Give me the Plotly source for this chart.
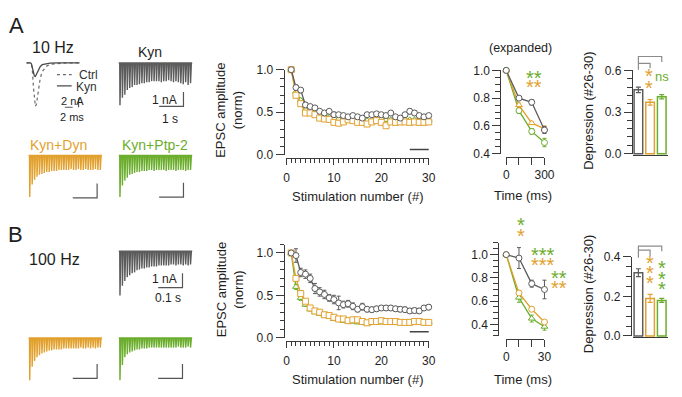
import plotly.graph_objects as go

W, H = 682, 397
FONT = "Liberation Sans, Arial, Helvetica, sans-serif"
GRAY = "#5c5c5c"
ORANGE = "#E2A12E"
GREEN = "#6BAD2C"
AXC = "#3a3a3a"
TXT = "#1e1e1e"
BRK = "#8c8c8c"

# ---------------- data ----------------
stim = list(range(1, 31))
# 10 Hz, normalised EPSC amplitudes
kyn10 = [1.00, 0.79, 0.76, 0.585, 0.566, 0.55, 0.51, 0.49, 0.51, 0.47, 0.47, 0.46, 0.445, 0.46, 0.445,
         0.43, 0.47, 0.47, 0.48, 0.47, 0.46, 0.49, 0.445, 0.43, 0.47, 0.51, 0.49, 0.46, 0.445, 0.46]
kyn10_err = [0, 0.03, 0.03, 0.03, 0.02, 0.02, 0.02, 0.02, 0.02, 0.03, 0.02, 0.02, 0.02, 0.02, 0.02,
             0.02, 0.02, 0.02, 0.02, 0.02, 0.02, 0.02, 0.02, 0.02, 0.02, 0.03, 0.03, 0.02, 0.02, 0.02]
dyn10 = [1.00, 0.70, 0.60, 0.49, 0.49, 0.47, 0.43, 0.42, 0.415, 0.38, 0.37, 0.385, 0.41, 0.40, 0.38,
         0.38, 0.36, 0.385, 0.40, 0.38, 0.34, 0.385, 0.38, 0.385, 0.385, 0.38, 0.385, 0.38, 0.38, 0.385]
dyn10_err = [0, 0.02, 0.02, 0.02, 0.02, 0.015, 0.015, 0.015, 0.015, 0.015, 0.015, 0.015, 0.015, 0.015, 0.015,
             0.015, 0.015, 0.015, 0.015, 0.015, 0.015, 0.015, 0.015, 0.015, 0.015, 0.015, 0.015, 0.015, 0.015, 0.015]
ptp10 = [1.00, 0.74, 0.64, 0.53, 0.53, 0.51, 0.47, 0.45, 0.44, 0.43, 0.42, 0.42, 0.43, 0.42, 0.41,
         0.41, 0.40, 0.41, 0.41, 0.42, 0.41, 0.41, 0.40, 0.41, 0.42, 0.41, 0.41, 0.42, 0.41, 0.41]
ptp10_err = [0, 0.02, 0.02, 0.02, 0.02, 0.015, 0.015, 0.015, 0.015, 0.015, 0.015, 0.015, 0.015, 0.015, 0.015,
             0.015, 0.015, 0.015, 0.015, 0.015, 0.015, 0.015, 0.015, 0.015, 0.015, 0.015, 0.015, 0.015, 0.015, 0.015]
# 100 Hz
kyn100 = [1.00, 0.97, 0.77, 0.75, 0.70, 0.58, 0.54, 0.51, 0.47, 0.45, 0.41, 0.39, 0.40, 0.37, 0.335,
          0.365, 0.335, 0.33, 0.34, 0.35, 0.35, 0.35, 0.34, 0.335, 0.33, 0.315, 0.32, 0.315, 0.35, 0.36]
kyn100_err = [0, 0.08, 0.05, 0.05, 0.05, 0.06, 0.05, 0.05, 0.04, 0.05, 0.08, 0.04, 0.04, 0.04, 0.03,
              0.04, 0.03, 0.03, 0.03, 0.03, 0.03, 0.03, 0.03, 0.03, 0.03, 0.03, 0.03, 0.03, 0.03, 0.03]
dyn100 = [1.00, 0.70, 0.52, 0.43, 0.35, 0.315, 0.30, 0.27, 0.26, 0.24, 0.22, 0.22, 0.20, 0.21, 0.21,
          0.19, 0.175, 0.19, 0.19, 0.20, 0.19, 0.19, 0.19, 0.18, 0.18, 0.18, 0.19, 0.19, 0.18, 0.18]
dyn100_err = [0, 0.03, 0.03, 0.02, 0.02, 0.02, 0.015, 0.015, 0.015, 0.015, 0.015, 0.015, 0.015, 0.015, 0.015,
              0.015, 0.015, 0.015, 0.015, 0.015, 0.015, 0.015, 0.015, 0.015, 0.015, 0.015, 0.015, 0.015, 0.015, 0.015]
ptp100 = [1.00, 0.60, 0.47, 0.39, 0.335, 0.30, 0.28, 0.26, 0.25, 0.22, 0.21, 0.20, 0.19, 0.19, 0.18,
          0.175, 0.165, 0.18, 0.18, 0.18, 0.18, 0.18, 0.175, 0.18, 0.18, 0.175, 0.18, 0.18, 0.175, 0.18]
ptp100_err = [0, 0.03, 0.03, 0.02, 0.02, 0.015, 0.015, 0.015, 0.015, 0.015, 0.015, 0.015, 0.015, 0.015, 0.015,
              0.015, 0.015, 0.015, 0.015, 0.015, 0.015, 0.015, 0.015, 0.015, 0.015, 0.015, 0.015, 0.015, 0.015, 0.015]
avg_window = [26, 30]
avg_window_y = [0.06, 0.07]

# expanded (first four responses)
tA = [0, 100, 200, 300]
expA_kyn = [1.0, 0.80, 0.77, 0.57]; expA_kyn_err = [0, 0.012, 0.02, 0.025]
expA_dyn = [1.0, 0.75, 0.62, 0.58]; expA_dyn_err = [0, 0.015, 0.01, 0.02]
expA_ptp = [1.0, 0.71, 0.56, 0.48]; expA_ptp_err = [0, 0.02, 0.02, 0.03]
tB = [0, 10, 20, 30]
expB_kyn = [1.0, 0.97, 0.75, 0.70]; expB_kyn_err = [0, 0.09, 0.03, 0.08]
expB_dyn = [1.0, 0.67, 0.53, 0.42]; expB_dyn_err = [0, 0.02, 0.015, 0.015]
expB_ptp = [1.0, 0.63, 0.45, 0.38]; expB_ptp_err = [0, 0.04, 0.03, 0.03]

# depression (#26-30)
bar_cats = [0, 1, 2]
depA = [0.46, 0.37, 0.41]; depA_err = [0.02, 0.02, 0.015]
depB = [0.32, 0.19, 0.18]; depB_err = [0.02, 0.02, 0.01]
bracketA = {"outer": [0.604, 0.70, 0.70, 0.66], "inner": [0.651, 0.651, 0.616]}
bracketB = {"outer": [0.395, 0.454, 0.454, 0.429], "inner": [0.434, 0.434, 0.405]}

# example current traces: peak amplitudes (nA) of 30 EPSCs
trainA_kyn = [2.93, 2.40, 2.20, 1.87, 1.73, 1.67, 1.53, 1.53, 1.47, 1.40, 1.40, 1.33, 1.33, 1.27, 1.27,
              1.27, 1.27, 1.33, 1.27, 1.27, 1.20, 1.27, 1.33, 1.27, 1.33, 1.40, 1.47, 1.33, 1.53, 1.40]
trainA_dyn = [2.87, 2.00, 1.67, 1.47, 1.33, 1.27, 1.20, 1.13, 1.13, 1.07, 1.07, 1.07, 1.00, 1.00, 1.00,
              1.00, 1.00, 0.93, 1.00, 1.00, 0.93, 1.00, 1.00, 0.93, 1.00, 1.00, 1.00, 0.93, 1.00, 1.00]
trainA_ptp = [2.87, 2.07, 1.73, 1.53, 1.33, 1.27, 1.20, 1.13, 1.13, 1.07, 1.07, 1.07, 1.00, 1.00, 1.07,
              1.00, 1.00, 1.00, 1.00, 1.07, 1.00, 1.00, 1.00, 1.07, 1.00, 1.00, 1.00, 1.07, 1.00, 1.00]
trainB_kyn = [3.07, 2.40, 2.07, 1.80, 1.67, 1.53, 1.47, 1.33, 1.27, 1.20, 1.20, 1.13, 1.13, 1.07, 1.07,
              1.07, 1.00, 1.00, 1.00, 1.00, 1.00, 0.93, 0.93, 1.00, 0.93, 0.93, 1.00, 0.93, 1.00, 0.93]
trainB_dyn = [2.93, 2.00, 1.60, 1.33, 1.20, 1.07, 1.00, 0.93, 0.87, 0.87, 0.80, 0.80, 0.80, 0.80, 0.73,
              0.73, 0.73, 0.73, 0.73, 0.73, 0.73, 0.67, 0.73, 0.73, 0.67, 0.73, 0.67, 0.73, 0.67, 0.67]
trainB_ptp = [2.93, 1.87, 1.33, 1.13, 1.00, 0.93, 0.87, 0.80, 0.80, 0.73, 0.73, 0.73, 0.67, 0.67, 0.67,
              0.67, 0.67, 0.67, 0.67, 0.67, 0.67, 0.67, 0.67, 0.67, 0.60, 0.67, 0.67, 0.67, 0.60, 0.67]
dt_10Hz = 0.1   # s
dt_100Hz = 10   # ms
# scale-bar corners (time, current) in each trace panel
sbA_kyn = (2.62, -3.0); sbA_dyn = (2.78, -2.93); sbA_ptp = (2.62, -2.87)
sbB_kyn = (258, -2.53); sbB_dyn = (278, -2.8); sbB_ptp = (258, -2.8)

# single EPSC (ms, nA)
epsc_t = [0, 0.5, 1, 1.25, 1.5, 1.75, 2, 2.25, 2.5, 3, 3.5, 4, 5, 6, 8, 10, 12, 13.5]
epsc_kyn = [0, 0, 0, -0.2, -1.0, -2.2, -3.0, -3.1, -2.6, -1.5, -0.8, -0.4, -0.15, -0.05, 0, 0, 0, 0]
epsc_ctrl = [0, 0, 0, -0.3, -2.0, -5.5, -8.5, -10.0, -9.6, -6.0, -3.5, -2.0, -0.8, -0.3, -0.1, 0, 0, 0]
legend_key_t = [7.75, 11.5]
legend_key_i = [-2.7, -5.3]
epsc_sb_t = [9.75, 11.75, 13.25]
epsc_sb_i = [-10.2, -8.2]

# ---------------- helpers ----------------
fig = go.Figure()
layout = {}
annotations = []
count = [0]


def fx(p):
    return min(1.0, max(0.0, p / W))


def fy(p):
    return min(1.0, max(0.0, 1 - p / H))


def make_axes(left, right, top, bottom, xr, yr, pad=0):
    count[0] += 1
    k = count[0]
    sx = (xr[1] - xr[0]) / (right - left)
    sy = (yr[1] - yr[0]) / (bottom - top)
    pl = min(pad, left); pr = min(pad, W - right)
    pt = min(pad, top); pb = min(pad, H - bottom)
    xr2 = [xr[0] - pl * sx, xr[1] + pr * sx]
    yr2 = [yr[0] - pb * sy, yr[1] + pt * sy]
    s = '' if k == 1 else str(k)
    layout['xaxis' + s] = dict(domain=[fx(left - pl), fx(right + pr)], range=xr2, anchor='y' + s,
                               visible=False, fixedrange=True)
    layout['yaxis' + s] = dict(domain=[fy(bottom + pb), fy(top - pt)], range=yr2, anchor='x' + s,
                               visible=False, fixedrange=True)
    return 'x' + s, 'y' + s, 'xaxis' + s, 'yaxis' + s


def chart(box, xr, yr, xax, yax, xline_px, yline_px):
    left, right, top, bottom = box
    xv, yv, xn, yn = make_axes(left, right, top, bottom, xr, yr)
    base = dict(visible=True, showline=True, linecolor=AXC, linewidth=1, ticks='outside', tickcolor=AXC,
                tickwidth=1, showgrid=False, zeroline=False,
                tickfont=dict(family=FONT, size=12, color=TXT))
    layout[xn].update(base); layout[xn].update(xax)
    layout[xn].update(anchor='free', position=fy(xline_px))
    layout[yn].update(base); layout[yn].update(yax)
    layout[yn].update(anchor='free', position=fx(yline_px))
    fig.add_trace(go.Scatter(x=[None], y=[None], xaxis=xv, yaxis=yv, showlegend=False, hoverinfo='skip'))
    xo, yo, _, _ = make_axes(left, right, top, bottom, xr, yr, pad=40)
    return xo, yo


def series(ax, x, y, err, color, symbol):
    fig.add_trace(go.Scatter(
        x=x, y=y, xaxis=ax[0], yaxis=ax[1], mode='lines+markers',
        line=dict(color=color, width=1.3),
        marker=dict(symbol=symbol, size=6, color='white', line=dict(color=color, width=1)),
        error_y=dict(type='data', array=err, color=color, thickness=1, width=2),
        showlegend=False, hoverinfo='skip', cliponaxis=False))


def line(ax, x, y, color, width=1.2, dash='solid'):
    fig.add_trace(go.Scatter(x=x, y=y, xaxis=ax[0], yaxis=ax[1], mode='lines',
                             line=dict(color=color, width=width, dash=dash),
                             showlegend=False, hoverinfo='skip'))


def trace_panel(box, t0_px, px_per_t, base_px, px_per_nA):
    left, right, top, bottom = box
    xr = [(left - t0_px) / px_per_t, (right - t0_px) / px_per_t]
    yr = [(base_px - bottom) / px_per_nA, (base_px - top) / px_per_nA]
    xo, yo, _, _ = make_axes(left, right, top, bottom, xr, yr)
    return xo, yo


def train(ax, peaks, dt, color, corner, tlen):
    xs, ys = [-0.4 * dt], [0]
    for i, a in enumerate(peaks):
        t = i * dt
        xs += [t, t + 0.1 * dt, t + 0.45 * dt]
        ys += [0, -a, 0]
    xs.append((len(peaks) - 1) * dt + 0.8 * dt); ys.append(0)
    line(ax, xs, ys, color, width=1.4)
    tc, ic = corner
    line(ax, [tc - tlen, tc, tc], [ic, ic, ic + 1.0], "#555555", width=1.2)


def label(text, x, y, size=12, color=TXT, xanchor='center', yanchor='middle', angle=0):
    annotations.append(dict(text=text, x=fx(x), y=fy(y), xref='paper', yref='paper', showarrow=False,
                            font=dict(family=FONT, size=size, color=color), xanchor=xanchor,
                            yanchor=yanchor, textangle=angle))


STAR = 20


def star(text, x, y, color):
    label(text, x, y, size=STAR, color=color)


def minor(vals, ln=4):
    return dict(tickmode='array', tickvals=vals, ticklen=ln, ticks='outside', tickcolor=AXC, tickwidth=1)


# ---------------- example traces ----------------
ax_e = trace_panel((18, 100, 50, 118), 24, 4.0, 58, 4.5)
line(ax_e, epsc_t, epsc_ctrl, "#6a6a6a", width=1.2, dash='dot')
line(ax_e, epsc_t, epsc_kyn, "#4a4a4a", width=1.3)
line(ax_e, legend_key_t, [legend_key_i[0]] * 2, "#6a6a6a", width=1.2, dash='dot')
line(ax_e, legend_key_t, [legend_key_i[1]] * 2, "#4a4a4a", width=1.3)
line(ax_e, epsc_sb_t[:2], [epsc_sb_i[0]] * 2, "#555555", width=1.2)
line(ax_e, [epsc_sb_t[2]] * 2, epsc_sb_i, "#555555", width=1.2)

axAk = trace_panel((110, 200, 50, 112), 119, 24.8, 58, 15)
train(axAk, trainA_kyn, dt_10Hz, GRAY, sbA_kyn, 1.0)
axAd = trace_panel((18, 104, 145, 205), 27, 24.8, 154, 15)
train(axAd, trainA_dyn, dt_10Hz, ORANGE, sbA_dyn, 1.0)
axAp = trace_panel((110, 200, 145, 205), 119, 24.8, 154, 15)
train(axAp, trainA_ptp, dt_10Hz, GREEN, sbA_ptp, 1.0)

axBk = trace_panel((110, 200, 245, 300), 119, 0.248, 253, 15)
train(axBk, trainB_kyn, dt_100Hz, GRAY, sbB_kyn, 100)
axBd = trace_panel((18, 104, 335, 392), 27, 0.248, 343, 15)
train(axBd, trainB_dyn, dt_100Hz, ORANGE, sbB_dyn, 100)
axBp = trace_panel((110, 200, 335, 392), 119, 0.248, 343, 15)
train(axBp, trainB_ptp, dt_100Hz, GREEN, sbB_ptp, 100)

# ---------------- line charts ----------------
xax_stim = dict(range=[0, 30], tickmode='array', tickvals=[0, 10, 20, 30], ticklen=6,
                minor=minor(list(range(0, 31)), 4), ticklabelstandoff=2)
axLA = chart((289, 434, 65, 153), [0, 30], [0, 1.0], xax_stim,
             dict(tickmode='array', tickvals=[0, 0.5, 1.0], ticktext=['0.0', '0.5', '1.0'], ticklen=8,
                  minor=minor([i / 10 for i in range(0, 11)], 4)), 157, 286)
series(axLA, stim, ptp10, ptp10_err, GREEN, 'triangle-up')
series(axLA, stim, dyn10, dyn10_err, ORANGE, 'square')
series(axLA, stim, kyn10, kyn10_err, GRAY, 'circle')
line(axLA, avg_window, [avg_window_y[0]] * 2, "#444444", width=1.5)

axLB = chart((289, 434, 246.2, 342.7), [0, 30], [0, 1.1], xax_stim,
             dict(tickmode='array', tickvals=[0, 0.5, 1.0], ticktext=['0.0', '0.5', '1.0'], ticklen=8,
                  minor=minor([i / 10 for i in range(0, 12)], 4)), 346.5, 286)
series(axLB, stim, ptp100, ptp100_err, GREEN, 'triangle-up')
series(axLB, stim, dyn100, dyn100_err, ORANGE, 'square')
series(axLB, stim, kyn100, kyn100_err, GRAY, 'circle')
line(axLB, avg_window, [avg_window_y[1]] * 2, "#444444", width=1.5)

# ---------------- expanded ----------------
axEA = chart((513, 552, 65.7, 152), [0, 300], [0.4, 1.0],
             dict(tickmode='array', tickvals=tA, ticktext=['0', '', '', '300'], ticklen=7, ticklabelstandoff=0),
             dict(tickmode='array', tickvals=[0.4, 0.6, 0.8, 1.0], ticktext=['0.4', '0.6', '0.8', '1.0'],
                  ticklen=8, minor=minor([0.4 + i * 0.05 for i in range(13)], 5)), 155.5, 507)
series(axEA, tA, expA_ptp, expA_ptp_err, GREEN, 'circle')
series(axEA, tA, expA_dyn, expA_dyn_err, ORANGE, 'triangle-up')
series(axEA, tA, expA_kyn, expA_kyn_err, GRAY, 'circle')

axEB = chart((513, 552, 244.6, 341), [0, 30], [0.3, 1.1],
             dict(tickmode='array', tickvals=tB, ticktext=['0', '', '', '30'], ticklen=7, ticklabelstandoff=0),
             dict(tickmode='array', tickvals=[0.4, 0.6, 0.8, 1.0], ticktext=['0.4', '0.6', '0.8', '1.0'],
                  ticklen=8, minor=minor([0.3 + i * 0.05 for i in range(17)], 5)), 344, 505)
series(axEB, tB, expB_ptp, expB_ptp_err, GREEN, 'triangle-up')
series(axEB, tB, expB_dyn, expB_dyn_err, ORANGE, 'circle')
series(axEB, tB, expB_kyn, expB_kyn_err, GRAY, 'circle')

# ---------------- bars ----------------
bar_x = dict(tickmode='array', tickvals=[], ticks='', showticklabels=False)
axBA = chart((641.8, 677.5, 65.7, 152), [-0.5, 2.5], [0, 0.6], bar_x,
             dict(tickmode='array', tickvals=[0, 0.3, 0.6], ticktext=['0.0', '0.3', '0.6'], ticklen=8,
                  minor=minor([i * 0.06 for i in range(11)], 5)), 153, 641)
axBB = chart((641.8, 677.5, 259, 341), [-0.5, 2.5], [0, 0.4], bar_x,
             dict(tickmode='array', tickvals=[0, 0.2, 0.4], ticktext=['0.0', '0.2', '0.4'], ticklen=8,
                  minor=minor([i * 0.05 for i in range(9)], 5)), 342, 640)

for ax, vals, errs, br in ((axBA, depA, depA_err, bracketA), (axBB, depB, depB_err, bracketB)):
    for c, v, e, col in zip(bar_cats, vals, errs, (GRAY, ORANGE, GREEN)):
        fig.add_trace(go.Bar(x=[c], y=[v], xaxis=ax[0], yaxis=ax[1], width=0.74,
                             marker=dict(color='white', line=dict(color=col, width=1.5)),
                             error_y=dict(type='data', array=[e], color=col, thickness=1.2, width=2.5),
                             showlegend=False, hoverinfo='skip'))
    line(ax, [0, 0, 2, 2], br["outer"], BRK, width=1.2)
    line(ax, [0, 1, 1], br["inner"], BRK, width=1.2)

# ---------------- text ----------------
label('A', 14, 19, size=22)
label('B', 13, 236, size=22)
label('10 Hz', 51, 42, size=16)
label('100 Hz', 53, 262, size=16)
label('Kyn', 150, 47, size=14)
label('Ctrl', 75, 71, size=12, color='#333', xanchor='left')
label('Kyn', 72, 83, size=12, color='#333', xanchor='left')
label('2 nA', 57, 97, size=11, xanchor='left')
label('2 ms', 70, 114, size=11)
label('1 nA', 179, 96, size=12, xanchor='right')
label('1 s', 170, 116, size=12)
label('Kyn+Dyn', 57, 143, size=14, color=ORANGE)
label('Kyn+Ptp-2', 155, 143, size=14, color=GREEN)
label('1 nA', 179, 282, size=12, xanchor='right')
label('0.1 s', 168, 302, size=12)
label('(expanded)', 528, 43, size=12.5)

label('EPSC amplitude<br>(norm)', 231, 107, size=13, angle=-90)
label('Stimulation number (#)', 362, 196, size=13)
label('EPSC amplitude<br>(norm)', 231, 293, size=13, angle=-90)
label('Stimulation number (#)', 362, 386, size=13)
label('Time (ms)', 530, 195, size=13)
label('Time (ms)', 530, 386, size=13)
label('Depression (#26-30)', 597, 107, size=13, angle=-90)
label('Depression (#26-30)', 597, 297, size=13, angle=-90)

star('**', 541, 74, GREEN)
star('**', 541, 83, ORANGE)
star('*', 659, 72, ORANGE)
star('*', 659, 84, ORANGE)
label('ns', 672, 72, size=13, color=GREEN)

star('*', 528, 226, GREEN)
star('*', 528, 237, ORANGE)
star('***', 550, 257, GREEN)
star('***', 550, 267, ORANGE)
star('**', 567, 281, GREEN)
star('**', 567, 291, ORANGE)
for yy in (265, 276, 286):
    star('*', 660, yy, ORANGE)
for yy in (271, 282, 292):
    star('*', 672, yy, GREEN)

fig.update_layout(width=W, height=H, margin=dict(l=0, r=0, t=0, b=0), paper_bgcolor='white',
                  plot_bgcolor='rgba(0,0,0,0)', showlegend=False, barmode='overlay',
                  font=dict(family=FONT, color=TXT), annotations=annotations, **layout)
fig.write_html("out.html", config={"displayModeBar": False, "staticPlot": True},
               post_script="document.body.style.margin='0px';document.body.style.overflow='hidden';")
